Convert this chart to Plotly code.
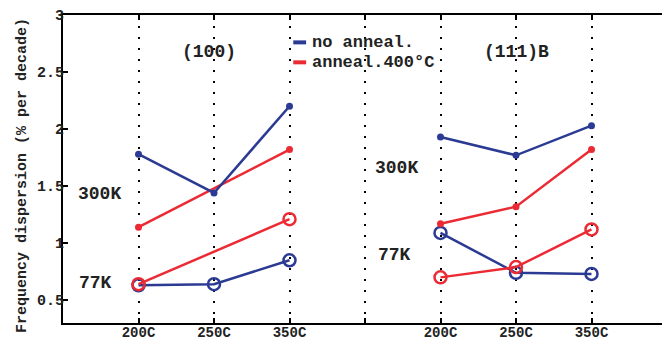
import plotly.graph_objects as go

# ---- data ----
categories = ["200C", "250C", "350C", "", "200C", "250C", "350C"]
pos_100 = [1, 2, 3]
pos_111 = [5, 6, 7]

blue_300K_100 = [1.78, 1.44, 2.20]
red_300K_100 = [1.14, None, 1.82]
blue_77K_100 = [0.63, 0.64, 0.85]
red_77K_100 = [0.64, None, 1.21]

blue_300K_111 = [1.93, 1.77, 2.03]
red_300K_111 = [1.17, 1.32, 1.82]
blue_77K_111 = [1.09, 0.74, 0.73]
red_77K_111 = [0.70, 0.79, 1.12]

y_ticks = [0.5, 1, 1.5, 2, 2.5, 3]
legend_names = ["no anneal.", "anneal.400\u00b0C"]
y_title = "Frequency dispersion (% per decade)"

BLUE = "#2B3A92"
RED = "#EC2A33"
FONT = "Liberation Mono"

fig = go.Figure()


def add(xs, ys, color, open_marker):
    if open_marker:
        marker = dict(symbol="circle-open", size=12, color=color, line=dict(width=2.5, color=color))
    else:
        marker = dict(symbol="circle", size=7, color=color)
    fig.add_trace(go.Scatter(x=xs, y=ys, mode="lines+markers", connectgaps=True,
                             line=dict(color=color, width=2.5), marker=marker,
                             showlegend=False, hoverinfo="skip"))


for xs, b3, r3, b7, r7 in [(pos_100, blue_300K_100, red_300K_100, blue_77K_100, red_77K_100),
                           (pos_111, blue_300K_111, red_300K_111, blue_77K_111, red_77K_111)]:
    add(xs, b7, BLUE, True)
    add(xs, r7, RED, True)
    add(xs, r3, RED, False)
    add(xs, b3, BLUE, False)

annotations = [
    dict(x=1.93, y=2.68, text="(100)", font=dict(size=18)),
    dict(x=6.01, y=2.68, text="(111)B", font=dict(size=18)),
    dict(x=0.49, y=1.43, text="300K", font=dict(size=18)),
    dict(x=0.19, y=0.65, text="77K", font=dict(size=18), xanchor="left"),
    dict(x=4.1, y=1.66, text="300K", font=dict(size=18), xanchor="left"),
    dict(x=4.14, y=0.90, text="77K", font=dict(size=18), xanchor="left"),
]

# manual legend (short thick line + text)
shapes = []
for i, (name, color) in enumerate(zip(legend_names, [BLUE, RED])):
    yy = 2.76 - i * 0.175
    shapes.append(dict(type="line", xref="x", yref="y", x0=3.05, x1=3.22, y0=yy, y1=yy,
                       line=dict(color=color, width=4)))
    annotations.append(dict(x=3.27, y=yy, text=name, xanchor="left", font=dict(size=17)))

for a in annotations:
    a.update(xref="x", yref="y", showarrow=False)
    a["font"].update(family=FONT, color="#222", weight="bold")

# y-axis title as rotated annotation
annotations.append(dict(xref="paper", yref="paper", x=-0.068, y=0.48, text=y_title,
                        textangle=-90, showarrow=False, xanchor="center", yanchor="middle",
                        font=dict(family=FONT, size=15, color="#222", weight="bold")))

# page body has an 8px default margin, so margins are shifted to compensate
fig.update_layout(
    width=670, height=343,
    margin=dict(l=55, r=11, t=7, b=28),
    paper_bgcolor="white", plot_bgcolor="white",
    font=dict(family=FONT, color="#222", size=14, weight="bold"),
    annotations=annotations, shapes=shapes,
    showlegend=False,
)
fig.update_xaxes(
    range=[0, 8], tickvals=list(range(1, len(categories) + 1)), ticktext=categories,
    showline=True, linecolor="black", linewidth=2, mirror="ticks",
    ticks="inside", ticklen=5, tickwidth=2, tickcolor="black",
    showgrid=True, gridcolor="black", gridwidth=1.5, griddash="2px,9px",
    zeroline=False, tickfont=dict(size=14), ticklabelstandoff=-5, automargin=False,
)
fig.update_yaxes(
    range=[0.3, 3], tickvals=y_ticks, ticktext=[f"{v:g}" for v in y_ticks],
    showline=True, linecolor="black", linewidth=2, mirror="ticks",
    ticks="inside", ticklen=5, tickwidth=2, tickcolor="black",
    showgrid=False, zeroline=False, tickfont=dict(size=15), automargin=False,
    ticklabelstandoff=-6,
)

fig.write_html("out.html")
